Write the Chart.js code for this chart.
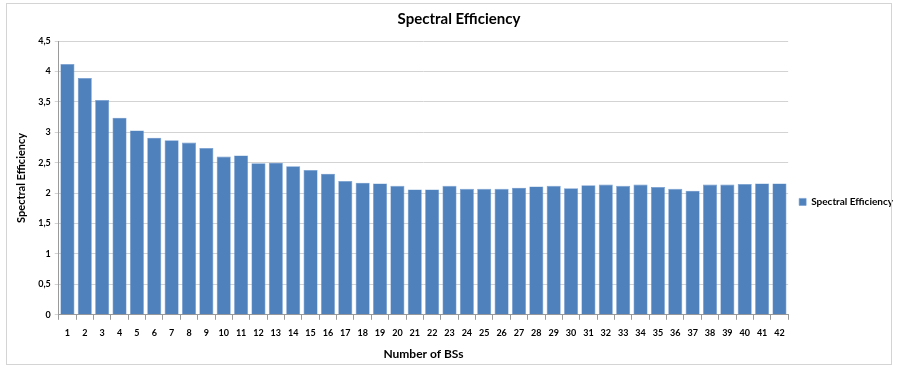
<!DOCTYPE html>
<html>
<head>
<meta charset="utf-8">
<script src="https://cdn.jsdelivr.net/npm/chart.js@4/dist/chart.umd.min.js"></script>
<style>
html,body{margin:0;padding:0;background:#fff;}
#wrap{position:relative;width:899px;height:371px;}
#frame{position:absolute;left:6px;top:3px;width:886px;height:362px;border:1px solid #d4d4d4;box-sizing:border-box;pointer-events:none;}
canvas{position:absolute;left:0;top:0;}
</style>
</head>
<body>
<div id="wrap"><canvas id="c" width="899" height="371"></canvas><div id="frame"></div></div>
<script>
const categories = ["1","2","3","4","5","6","7","8","9","10","11","12","13","14","15","16","17","18","19","20","21","22","23","24","25","26","27","28","29","30","31","32","33","34","35","36","37","38","39","40","41","42"];
const spectralEfficiency = [4.12,3.89,3.53,3.24,3.03,2.91,2.87,2.83,2.74,2.60,2.62,2.49,2.50,2.44,2.38,2.32,2.20,2.17,2.16,2.12,2.06,2.06,2.12,2.07,2.07,2.07,2.09,2.11,2.12,2.08,2.13,2.14,2.12,2.14,2.10,2.07,2.04,2.14,2.14,2.15,2.16,2.16];
const yTicks = [0,0.5,1,1.5,2,2.5,3,3.5,4,4.5];
const seriesName = "Spectral Efficiency";
const titleText = "Spectral Efficiency";
const xTitle = "Number of BSs";
const yTitle = "Spectral Efficiency";

const FONT = "Lato, 'Open Sans', sans-serif";
Chart.defaults.font.family = FONT;
Chart.defaults.color = "#000";

new Chart(document.getElementById("c"), {
  type: "bar",
  data: {
    labels: categories,
    datasets: [{
      label: seriesName,
      data: spectralEfficiency,
      backgroundColor: "#4F81BD",
      borderColor: "#6F9AD0",
      borderWidth: 0.6,
      barPercentage: 0.81,
      categoryPercentage: 1.0
    }]
  },
  options: {
    responsive: false,
    animation: false,
    layout: { padding: { left: 15, right: -4, top: 2, bottom: 10 } },
    plugins: {
      title: {
        display: true,
        text: titleText,
        font: { size: 15, weight: "bold", family: FONT },
        color: "#000",
        padding: { top: 8, bottom: 13 }
      },
      legend: {
        position: "right",
        align: "center",
        title: { display: true, text: " ", padding: { top: 15, bottom: 15 }, font: { size: 9 } },
        labels: {
          boxWidth: 7,
          boxHeight: 7,
          padding: 11,
          font: { size: 10, weight: "bold", family: FONT },
          color: "#000"
        }
      },
      tooltip: { enabled: false }
    },
    scales: {
      x: {
        offset: true,
        grid: {
          offset: true,
          drawOnChartArea: false,
          drawTicks: true,
          tickLength: 5,
          color: "#9a9a9a"
        },
        border: { display: true, color: "#9a9a9a", width: 1 },
        ticks: {
          autoSkip: false,
          maxRotation: 0,
          padding: 8,
          font: { size: 9, weight: "bold", family: FONT },
          color: "#000"
        },
        title: {
          display: true,
          text: xTitle,
          font: { size: 12, weight: "bold", family: FONT },
          color: "#000",
          padding: { top: 0, bottom: 0 }
        }
      },
      y: {
        min: 0,
        max: 4.5,
        afterBuildTicks: (axis) => { axis.ticks = yTicks.map(v => ({ value: v })); },
        grid: {
          color: "#d3d3d3",
          drawTicks: true,
          tickLength: 4,
          lineWidth: 1
        },
        border: { display: true, color: "#9a9a9a", width: 1 },
        ticks: {
          padding: 4,
          font: { size: 9, weight: "bold", family: FONT },
          color: "#000",
          callback: (v) => String(v).replace(".", ",")
        },
        title: {
          display: true,
          text: yTitle,
          font: { size: 11, weight: "bold", family: FONT },
          color: "#000",
          padding: { top: 0, bottom: 6 }
        }
      }
    }
  }
});
</script>
</body>
</html>
